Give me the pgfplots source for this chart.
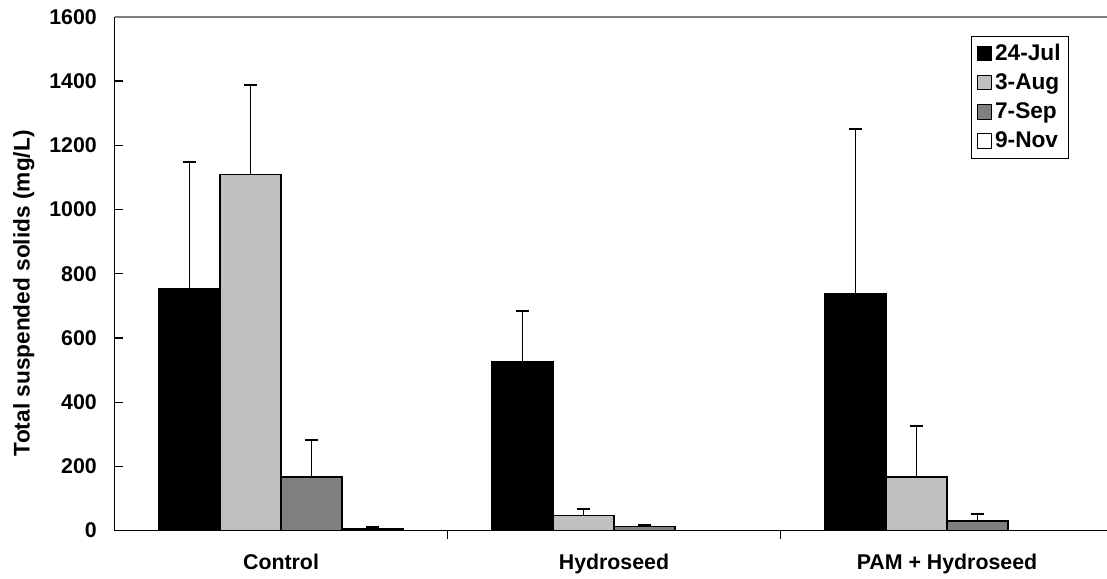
\documentclass[border=0pt]{standalone}
\usepackage{fontspec}
\setmainfont{Liberation Sans}
\usepackage{pgfplots}
\pgfplotsset{compat=1.18}
\definecolor{lgray}{RGB}{192,192,192}
\definecolor{dgray}{RGB}{128,128,128}
\pgfplotsset{myerr/.style={error bars/.cd, y dir=plus, y explicit, error mark=|,
  error bar style={black, line width=1.4pt}, error mark options={black, mark size=4.9pt, line width=1.4pt}}}
\begin{document}
\begin{tikzpicture}
\useasboundingbox (-85.9pt,-36.2pt) rectangle (744.4pt,398.0pt);
\begin{axis}[
  scale only axis,
  width=749.25pt, height=385.3pt,
  xmin=-0.5, xmax=2.5,
  ymin=0, ymax=1600,
  ytick={0,200,...,1600},
  axis x line*=bottom, axis y line*=left,
  axis line style={black, line width=1pt},
  tick align=inside,
  major tick length=6pt,
  tick style={black, line width=1pt},
  xtick={0.5,1.5,2.5},
  xticklabels={},
  extra x ticks={0,1,2},
  extra x tick labels={Control,Hydroseed,PAM + Hydroseed},
  extra x tick style={major tick length=0pt, tick label style={yshift=-14pt}},
  /pgf/number format/assume math mode=true,
  /pgf/number format/1000 sep={},
  every tick label/.append style={font=\bfseries\fontsize{16}{18}\selectfont},
  yticklabel style={xshift=-9.8pt},
  ylabel={Total suspended solids (mg/L)},
  every axis y label/.style={at={(axis description cs:-0.0908,0.462)}, rotate=90, anchor=center, font=\bfseries\fontsize{17}{20}\selectfont},
  ybar=0pt,
  bar width=0.1832,
  legend style={at={(rel axis cs:0.9555,0.9636)}, anchor=north east, draw=black, line width=0.6pt,
    font=\bfseries\fontsize{17}{19}\selectfont, row sep=4.5pt, inner xsep=4pt, inner ysep=4pt,
    legend cell align=left, /tikz/every odd column/.style={xshift=1.5pt}},
  legend image code/.code={\draw[#1, line width=0.8pt, draw=black] (0pt,-5.4pt) rectangle (10.8pt,5.4pt);},
]
\draw[gray, line width=1pt] (rel axis cs:0,1) -- (rel axis cs:1,1);
\addplot[fill=black, draw=black, line width=0.9pt, myerr]
  coordinates {(0,753) +- (0,395) (1,525) +- (0,159) (2,737) +- (0,514)};
\addplot[fill=lgray, draw=black, line width=0.9pt, myerr]
  coordinates {(0,1108) +- (0,280) (1,46) +- (0,21) (2,167) +- (0,159)};
\addplot[fill=dgray, draw=black, line width=0.9pt, myerr]
  coordinates {(0,167) +- (0,116) (1,12) +- (0,6) (2,30) +- (0,22)};
\addplot[fill=white, draw=black, line width=0.9pt, myerr]
  coordinates {(0,5) +- (0,6) (1,0) +- (0,0) (2,0) +- (0,0)};
\legend{24-Jul,3-Aug,7-Sep,9-Nov}
\end{axis}
\end{tikzpicture}
\end{document}
